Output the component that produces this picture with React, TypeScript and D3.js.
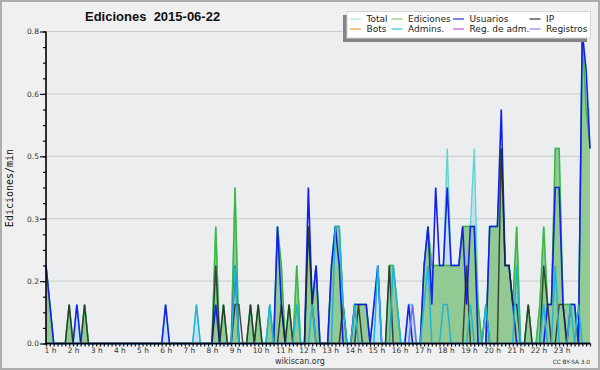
import React, { useRef, useEffect } from "react";
import * as d3 from "d3";

// edits per 10-minute bin (the chart shows edits/min = count / 10)
const total = [
    2, 1, 0, 0, 0, 0, 1, 0, 1, 0, 1, 0,
    0, 0, 0, 0, 0, 0, 0, 0, 0, 0, 0, 0,
    0, 0, 0, 0, 0, 0, 0, 1, 0, 0, 0, 0,
    0, 0, 0, 1, 0, 0, 0, 0, 3, 0, 1, 0,
    0, 4, 0, 0, 0, 1, 0, 1, 0, 0, 1, 0,
    3, 2, 0, 1, 0, 2, 0, 0, 3, 1, 2, 0,
    0, 0, 2, 3, 3, 1, 0, 0, 1, 1, 1, 1,
    0, 1, 2, 0, 0, 2, 2, 1, 0, 0, 1, 1,
    0, 0, 2, 3, 2, 2, 2, 2, 5, 2, 2, 2,
    3, 3, 3, 5, 1, 0, 0, 3, 3, 3, 5, 2,
    2, 1, 3, 0, 0, 1, 0, 0, 1, 3, 1, 1,
    5, 5, 1, 1, 1, 1, 0, 8, 6, 6,
];

const ediciones = [
    2, 1, 0, 0, 0, 0, 1, 0, 0, 0, 1, 0,
    0, 0, 0, 0, 0, 0, 0, 0, 0, 0, 0, 0,
    0, 0, 0, 0, 0, 0, 0, 0, 0, 0, 0, 0,
    0, 0, 0, 0, 0, 0, 0, 0, 3, 0, 1, 0,
    0, 4, 0, 0, 0, 1, 0, 1, 0, 0, 1, 0,
    3, 2, 0, 1, 0, 2, 0, 0, 3, 1, 2, 0,
    0, 0, 2, 3, 3, 1, 0, 0, 1, 1, 1, 1,
    0, 0, 0, 0, 0, 2, 2, 1, 0, 0, 0, 0,
    0, 0, 2, 3, 2, 2, 2, 2, 2, 2, 2, 2,
    3, 3, 3, 3, 1, 0, 0, 3, 3, 3, 5, 2,
    2, 1, 3, 0, 0, 1, 0, 0, 1, 3, 1, 1,
    5, 5, 1, 1, 1, 1, 0, 8, 6, 5,
];

const usuarios = [
    2, 1, 0, 0, 0, 0, 0, 0, 1, 0, 0, 0,
    0, 0, 0, 0, 0, 0, 0, 0, 0, 0, 0, 0,
    0, 0, 0, 0, 0, 0, 0, 1, 0, 0, 0, 0,
    0, 0, 0, 0, 0, 0, 0, 0, 1, 0, 0, 0,
    0, 2, 0, 0, 0, 0, 0, 0, 0, 0, 0, 0,
    3, 1, 0, 0, 0, 0, 0, 0, 4, 1, 2, 0,
    0, 0, 2, 3, 2, 0, 0, 0, 1, 1, 1, 1,
    0, 1, 2, 0, 0, 0, 0, 0, 0, 0, 1, 0,
    0, 0, 2, 3, 1, 4, 2, 2, 4, 2, 2, 2,
    3, 1, 3, 3, 0, 0, 0, 3, 3, 3, 6, 2,
    2, 1, 0, 0, 0, 0, 0, 0, 0, 0, 1, 1,
    4, 4, 1, 0, 1, 1, 0, 8, 7, 5,
];

const ip = [
    0, 0, 0, 0, 0, 0, 1, 0, 0, 0, 1, 0,
    0, 0, 0, 0, 0, 0, 0, 0, 0, 0, 0, 0,
    0, 0, 0, 0, 0, 0, 0, 0, 0, 0, 0, 0,
    0, 0, 0, 0, 0, 0, 0, 0, 2, 0, 1, 0,
    0, 1, 1, 0, 0, 1, 0, 1, 0, 0, 0, 0,
    0, 1, 0, 1, 0, 0, 0, 0, 3, 1, 0, 0,
    0, 0, 0, 0, 0, 1, 0, 0, 0, 1, 0, 0,
    0, 0, 0, 0, 0, 2, 0, 0, 0, 0, 0, 0,
    0, 0, 0, 0, 0, 0, 0, 0, 0, 0, 0, 0,
    0, 2, 0, 0, 0, 0, 1, 0, 0, 0, 5, 2,
    2, 1, 1, 0, 0, 1, 0, 0, 0, 2, 1, 0,
    0, 1, 1, 0, 0, 0, 0, 0, 0, 0,
];

const admins = [
    0, 0, 0, 0, 0, 0, 0, 0, 0, 0, 0, 0,
    0, 0, 0, 0, 0, 0, 0, 0, 0, 0, 0, 0,
    0, 0, 0, 0, 0, 0, 0, 0, 0, 0, 0, 0,
    0, 0, 0, 1, 0, 0, 0, 0, 0, 0, 0, 0,
    0, 2, 0, 0, 0, 0, 0, 0, 0, 0, 1, 0,
    0, 0, 0, 0, 0, 1, 0, 0, 0, 1, 0, 0,
    0, 0, 0, 3, 3, 1, 0, 0, 1, 0, 0, 0,
    0, 0, 2, 0, 0, 0, 2, 1, 0, 0, 0, 0,
    0, 0, 1, 2, 0, 0, 0, 1, 1, 0, 0, 0,
    0, 0, 1, 0, 0, 0, 1, 0, 0, 0, 0, 0,
    0, 0, 2, 0, 0, 0, 0, 0, 0, 1, 0, 0,
    2, 0, 0, 0, 1, 0, 1, 0, 0, 0,
];

const registros = [
    0, 0, 0, 0, 0, 0, 0, 0, 0, 0, 0, 0,
    0, 0, 0, 0, 0, 0, 0, 0, 0, 0, 0, 0,
    0, 0, 0, 0, 0, 0, 0, 0, 0, 0, 0, 0,
    0, 0, 0, 0, 0, 0, 0, 0, 0, 0, 0, 0,
    0, 0, 0, 0, 0, 0, 0, 0, 0, 0, 0, 0,
    0, 0, 0, 0, 0, 0, 0, 0, 0, 0, 0, 0,
    0, 0, 0, 0, 0, 0, 0, 0, 0, 0, 0, 0,
    0, 0, 0, 0, 0, 0, 0, 0, 0, 0, 0, 1,
    0, 0, 0, 0, 0, 0, 0, 0, 0, 0, 0, 0,
    0, 0, 0, 0, 0, 0, 0, 0, 0, 0, 0, 0,
    0, 0, 0, 0, 0, 0, 0, 0, 0, 0, 0, 0,
    0, 0, 0, 0, 0, 0, 0, 0, 0, 0,
];

const hourLabels = [
    "1 h", "2 h", "3 h", "4 h", "5 h", "6 h", "7 h", "8 h", "9 h", "10 h", "11 h", "12 h",
    "13 h", "14 h", "15 h", "16 h", "17 h", "18 h", "19 h", "20 h", "21 h", "22 h", "23 h",
];

const yTicks = [0, 0.16, 0.32, 0.48, 0.64, 0.8];

const legendRow1 = [
    { name: "Total", color: "#a6e6e8" },
    { name: "Ediciones", color: "#7fcf7f" },
    { name: "Usuarios", color: "#2a2ae6" },
    { name: "IP", color: "#333333" },
];
const legendRow2 = [
    { name: "Bots", color: "#f0a040" },
    { name: "Admins.", color: "#38c8dc" },
    { name: "Reg. de adm.", color: "#d050dc" },
    { name: "Registros", color: "#8080f0" },
];

const EdicionesChart = () => {
    const svgRef = useRef<SVGSVGElement>(null);

    useEffect(() => {
        if (!svgRef.current) return;
        const width = 600;
        const height = 370;
        const left = 46, right = 590, top = 31.5, bottom = 343.5;

        d3.select(svgRef.current).selectAll("*").remove();
        const svg = d3.select(svgRef.current).attr("width", width).attr("height", height);

        // fondo
        svg.append("rect")
            .attr("x", 1).attr("y", 1).attr("width", width - 2).attr("height", height - 2)
            .attr("fill", "#f0f0f0").attr("stroke", "#adadad").attr("stroke-width", 2);

        svg.append("rect")
            .attr("x", left).attr("y", top).attr("width", right - left).attr("height", bottom - top)
            .attr("fill", "#ebedef");

        const n = ediciones.length;
        const x = d3.scaleLinear().domain([0, n - 1]).range([left, right]);
        const y = d3.scaleLinear().domain([0, 0.8]).range([bottom, top]);

        // grid
        svg.append("g")
            .selectAll("line")
            .data(yTicks.filter((d) => d > 0))
            .enter()
            .append("line")
            .attr("x1", left).attr("x2", right)
            .attr("y1", (d) => y(d)).attr("y2", (d) => y(d))
            .attr("stroke", "#cbcbcb").attr("stroke-width", 1);

        const area = d3.area<number>()
            .x((_, i) => x(i))
            .y0(bottom)
            .y1((d) => y(d / 10));
        const line = d3.line<number>()
            .x((_, i) => x(i))
            .y((d) => y(d / 10));

        svg.append("path").datum(total).attr("d", area)
            .attr("fill", "#c3dbed").attr("opacity", 0.9);
        svg.append("path").datum(ediciones).attr("d", area)
            .attr("fill", "#93c993");

        const series = [
            { data: total, color: "#5fd6d2", w: 1.4, op: 1 },
            { data: ediciones, color: "#3cb83c", w: 1.5, op: 1 },
            { data: usuarios, color: "#1420ea", w: 1.6, op: 1 },
            { data: ip, color: "#222222", w: 1.5, op: 0.8 },
            { data: admins, color: "#1fb6d6", w: 1.5, op: 1 },
            { data: registros, color: "#6f6ff0", w: 1.5, op: 1 },
        ];
        series.forEach((s) => {
            svg.append("path").datum(s.data).attr("d", line)
                .attr("fill", "none")
                .attr("stroke", s.color)
                .attr("stroke-width", s.w)
                .attr("stroke-linejoin", "miter")
                .attr("opacity", s.op);
        });

        // eje Y
        const yAxisMinor = svg.append("g")
            .attr("transform", `translate(${left},0)`)
            .call(d3.axisLeft(y).tickValues(d3.range(0, 0.8001, 0.04)).tickSize(3).tickFormat(() => ""));
        yAxisMinor.select(".domain").remove();

        const yAxis = svg.append("g")
            .attr("transform", `translate(${left},0)`)
            .call(d3.axisLeft(y).tickValues(yTicks).tickSize(6).tickPadding(1).tickFormat(d3.format(".1f")));
        yAxis.select(".domain").remove();
        yAxis.selectAll("text")
            .style("font-family", "DejaVu Sans")
            .style("font-size", "7.5px")
            .style("fill", "#333");
        svg.selectAll(".tick line").attr("stroke", "#111").attr("stroke-width", 1.2);

        // eje X
        const xAxis = svg.append("g")
            .attr("transform", `translate(0,${bottom})`)
            .call(d3.axisBottom(x).tickValues(d3.range(0, n)).tickSize(3).tickSizeOuter(0).tickFormat(() => ""));
        xAxis.select(".domain").remove();
        xAxis.selectAll(".tick line").attr("stroke", "#111").attr("stroke-width", 1.2);

        svg.append("g")
            .selectAll("text")
            .data(hourLabels)
            .enter()
            .append("text")
            .attr("x", (_, k) => x(k * 6) - 1.5)
            .attr("y", 352.7)
            .style("font-family", "DejaVu Sans")
            .style("font-size", "7.5px")
            .style("fill", "#333")
            .text((d) => d);

        svg.append("line")
            .attr("x1", left).attr("x2", right + 0.5)
            .attr("y1", bottom).attr("y2", bottom)
            .attr("stroke", "#000").attr("stroke-width", 1.6);
        svg.append("line")
            .attr("x1", left).attr("x2", left)
            .attr("y1", top).attr("y2", bottom + 0.8)
            .attr("stroke", "#000").attr("stroke-width", 1.6);

        // título
        svg.append("text")
            .attr("x", 85)
            .attr("y", 21)
            .style("font-family", "Liberation Sans")
            .style("font-weight", "bold")
            .style("font-size", "13px")
            .style("fill", "#111")
            .style("white-space", "pre")
            .text("Ediciones  2015-06-22");

        svg.append("text")
            .attr("transform", "translate(13,188) rotate(-90)")
            .attr("text-anchor", "middle")
            .style("font-family", "DejaVu Sans Mono")
            .style("font-size", "10px")
            .style("fill", "#111")
            .text("Ediciones/min");

        svg.append("text")
            .attr("x", 300).attr("y", 364)
            .attr("text-anchor", "middle")
            .style("font-family", "DejaVu Sans")
            .style("font-size", "8px")
            .style("fill", "#333")
            .text("wikiscan.org");

        svg.append("text")
            .attr("x", 590).attr("y", 364)
            .attr("text-anchor", "end")
            .style("font-family", "DejaVu Sans")
            .style("font-size", "5.8px")
            .style("fill", "#333")
            .text("CC BY-SA 3.0");

        // leyenda
        svg.append("rect")
            .attr("x", 343).attr("y", 15).attr("width", 244).attr("height", 27)
            .attr("fill", "#858585");
        svg.append("rect")
            .attr("x", 347).attr("y", 11.5).attr("width", 243.5).attr("height", 26.5)
            .attr("fill", "#ffffff").attr("stroke", "#d4d4d4").attr("stroke-width", 1);

        const colX = [350, 391.5, 453, 529.5];
        [legendRow1, legendRow2].forEach((row, r) => {
            const ly = 19 + r * 10;
            row.forEach((item, c) => {
                svg.append("line")
                    .attr("x1", colX[c]).attr("x2", colX[c] + 11)
                    .attr("y1", ly).attr("y2", ly)
                    .attr("stroke", item.color).attr("stroke-width", 1.2);
                svg.append("text")
                    .attr("x", colX[c] + 16.5)
                    .attr("y", ly + 3.3)
                    .style("font-family", "DejaVu Sans")
                    .style("font-size", "9px")
                    .style("fill", "#222")
                    .text(item.name);
            });
        });
    }, []);

    return (
        <svg
            ref={svgRef}
            width={600}
            height={370}
            style={{ position: "absolute", left: 0, top: 0 }}
        />
    );
};

export default function App() {
    return <EdicionesChart />;
}
